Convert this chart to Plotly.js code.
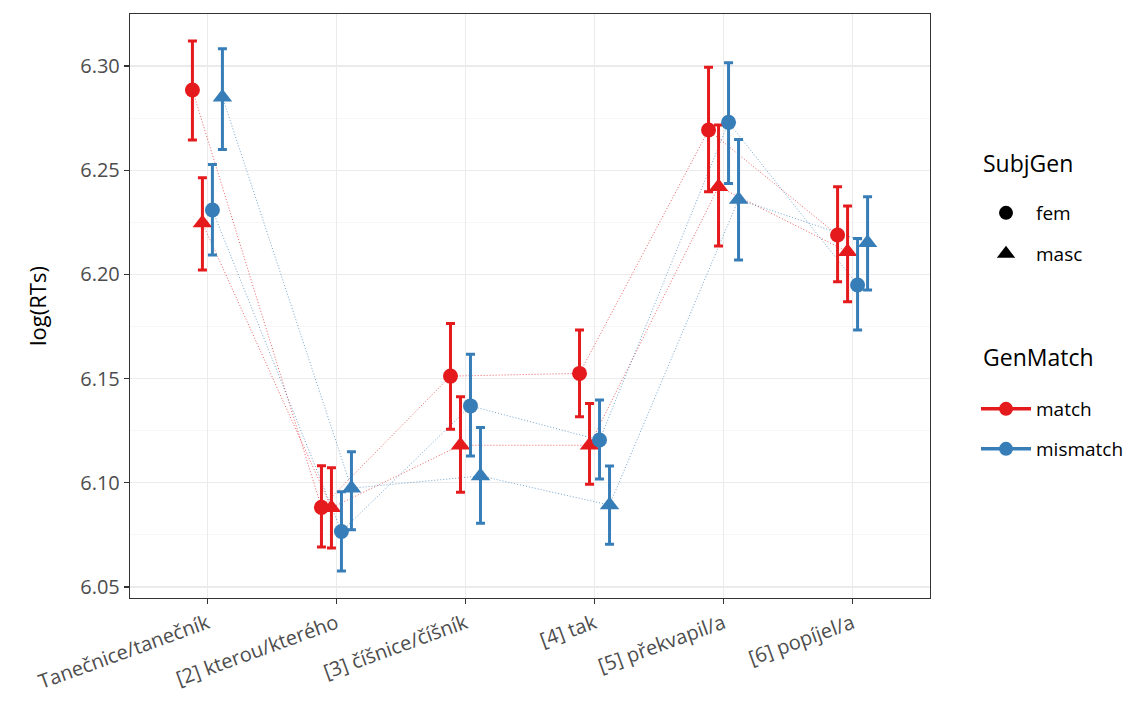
<!DOCTYPE html>
<html>
<head>
<meta charset="utf-8">
<script src="https://cdn.plot.ly/plotly-3.0.1.min.js"></script>
<style>html,body{margin:0;padding:0;background:#fff}#chart{width:1135px;height:709px}</style>
</head>
<body>
<div id="chart"></div>
<script>
const categories = ["Tanečnice/tanečník", "[2] kterou/kterého", "[3] číšnice/číšník", "[4] tak", "[5] překvapil/a", "[6] popíjel/a"];

const matchFem      = [6.2885, 6.0882, 6.1512, 6.1525, 6.2693, 6.2189];
const matchFemLo    = [6.2645, 6.0692, 6.1257, 6.1317, 6.2397, 6.1965];
const matchFemHi    = [6.3120, 6.1082, 6.1765, 6.1733, 6.2994, 6.2421];

const matchMasc     = [6.2247, 6.0880, 6.1180, 6.1180, 6.2421, 6.2109];
const matchMascLo   = [6.2021, 6.0687, 6.0954, 6.0993, 6.2136, 6.1869];
const matchMascHi   = [6.2464, 6.1072, 6.1413, 6.1381, 6.2717, 6.2328];

const mismatchFem   = [6.2309, 6.0766, 6.1369, 6.1205, 6.2730, 6.1949];
const mismatchFemLo = [6.2093, 6.0577, 6.1129, 6.1018, 6.2437, 6.1733];
const mismatchFemHi = [6.2528, 6.0957, 6.1617, 6.1397, 6.3016, 6.2173];

const mismatchMasc   = [6.2851, 6.0974, 6.1033, 6.0893, 6.2360, 6.2152];
const mismatchMascLo = [6.2600, 6.0774, 6.0806, 6.0705, 6.2069, 6.1925];
const mismatchMascHi = [6.3083, 6.1149, 6.1265, 6.1081, 6.2648, 6.2373];

const yTicks = [6.05, 6.10, 6.15, 6.20, 6.25, 6.30];
const subjGenLevels = ["fem", "masc"];
const genMatchLevels = ["match", "mismatch"];

const RED = "#E41A1C", BLUE = "#377EB8";
const FONT = "'Open Sans', Lato, sans-serif";
const dodgeWidth = 0.31;

const series = [
  {name: "match fem", y: matchFem, lo: matchFemLo, hi: matchFemHi, color: RED, symbol: "circle", slot: 0},
  {name: "match masc", y: matchMasc, lo: matchMascLo, hi: matchMascHi, color: RED, symbol: "triangle-up", slot: 1},
  {name: "mismatch fem", y: mismatchFem, lo: mismatchFemLo, hi: mismatchFemHi, color: BLUE, symbol: "circle", slot: 2},
  {name: "mismatch masc", y: mismatchMasc, lo: mismatchMascLo, hi: mismatchMascHi, color: BLUE, symbol: "triangle-up", slot: 3}
];

function rgba(hex, a) {
  const r = parseInt(hex.slice(1,3),16), g = parseInt(hex.slice(3,5),16), b = parseInt(hex.slice(5,7),16);
  return `rgba(${r},${g},${b},${a})`;
}

const traces = [];
series.forEach(s => {
  const off = (s.slot - 1.5) * dodgeWidth / 4;
  const xs = categories.map((c, i) => i + off);
  traces.push({
    type: "scatter", mode: "lines", x: xs, y: s.y, showlegend: false, hoverinfo: "skip",
    line: {color: rgba(s.color, 0.7), width: 1, dash: "1px,2px"}
  });
});
series.forEach(s => {
  const off = (s.slot - 1.5) * dodgeWidth / 4;
  const xs = categories.map((c, i) => i + off);
  traces.push({
    type: "scatter", mode: "markers", x: xs, y: s.y, name: s.name, showlegend: false,
    marker: {color: s.color, symbol: s.symbol, size: s.symbol === "circle" ? 15 : 17, line: {width: 0}},
    error_y: {
      type: "data", symmetric: false,
      array: s.hi.map((h, i) => h - s.y[i]),
      arrayminus: s.lo.map((l, i) => s.y[i] - l),
      color: s.color, thickness: 3, width: 4.5
    }
  });
});

// legend traces (one legend per entry so spacing matches the reference)
const legX = 1.0575;
const titleX = 1.06375;
traces.push({type: "scatter", mode: "markers", x: [null], y: [null], name: subjGenLevels[0], legend: "legend",
  marker: {color: "#000", symbol: "circle", size: 14}});
traces.push({type: "scatter", mode: "markers", x: [null], y: [null], name: subjGenLevels[1], legend: "legend2",
  marker: {color: "#000", symbol: "triangle-up", size: 16}});
traces.push({type: "scatter", mode: "lines+markers", x: [null], y: [null], name: genMatchLevels[0], legend: "legend3",
  line: {color: RED, width: 3.5}, marker: {color: RED, symbol: "circle", size: 14}});
traces.push({type: "scatter", mode: "lines+markers", x: [null], y: [null], name: genMatchLevels[1], legend: "legend4",
  line: {color: BLUE, width: 3.5}, marker: {color: BLUE, symbol: "circle", size: 14}});

function leg(y) {
  return {x: legX, xanchor: "left", y: y, yanchor: "middle", itemwidth: 50,
    font: {size: 19, color: "#000", family: FONT}, bgcolor: "rgba(0,0,0,0)", borderwidth: 0};
}

const layout = {
  width: 1135, height: 709,
  margin: {l: 130, r: 205, t: 14, b: 111, autoexpand: false},
  paper_bgcolor: "#fff", plot_bgcolor: "#fff",
  font: {family: FONT, color: "#000"},
  xaxis: {
    range: [-0.6, 5.6],
    tickmode: "array", tickvals: categories.map((c, i) => i), ticktext: categories,
    tickangle: -20, tickfont: {size: 20, color: "#4D4D4D", family: FONT},
    ticks: "outside", ticklen: 5, tickcolor: "#333", tickwidth: 1.2,
    showgrid: true, gridcolor: "#EBEBEB", gridwidth: 1.3,
    showline: true, linecolor: "#333", linewidth: 1.2, mirror: true, zeroline: false, automargin: false
  },
  yaxis: {
    range: [6.0447, 6.325],
    tickmode: "array", tickvals: yTicks, ticktext: yTicks.map(v => v.toFixed(2)),
    tickfont: {size: 20, color: "#4D4D4D", family: FONT},
    ticks: "outside", ticklen: 5, tickcolor: "#333", tickwidth: 1.2,
    showgrid: true, gridcolor: "#EBEBEB", gridwidth: 1.3,
    minor: {tickmode: "array", tickvals: [6.075, 6.125, 6.175, 6.225, 6.275, 6.325], showgrid: true, gridcolor: "#F4F4F4", gridwidth: 0.7, ticks: ""},
    showline: true, linecolor: "#333", linewidth: 1.2, mirror: true, zeroline: false, automargin: false,
    title: {text: "log(RTs)", font: {size: 22, color: "#000", family: FONT}, standoff: 27}
  },
  legend: leg((598 - 213) / 584),
  legend2: leg((598 - 254) / 584),
  legend3: leg((598 - 409) / 584),
  legend4: leg((598 - 449) / 584),
  annotations: [
    {text: "SubjGen", xref: "paper", yref: "paper", x: titleX, y: (598 - 163) / 584, xanchor: "left", yanchor: "middle",
      showarrow: false, font: {size: 23, color: "#000", family: FONT}},
    {text: "GenMatch", xref: "paper", yref: "paper", x: titleX, y: (598 - 357) / 584, xanchor: "left", yanchor: "middle",
      showarrow: false, font: {size: 23, color: "#000", family: FONT}}
  ],
  showlegend: true
};

Plotly.newPlot("chart", traces, layout, {displayModeBar: false, staticPlot: true});
</script>
</body>
</html>
